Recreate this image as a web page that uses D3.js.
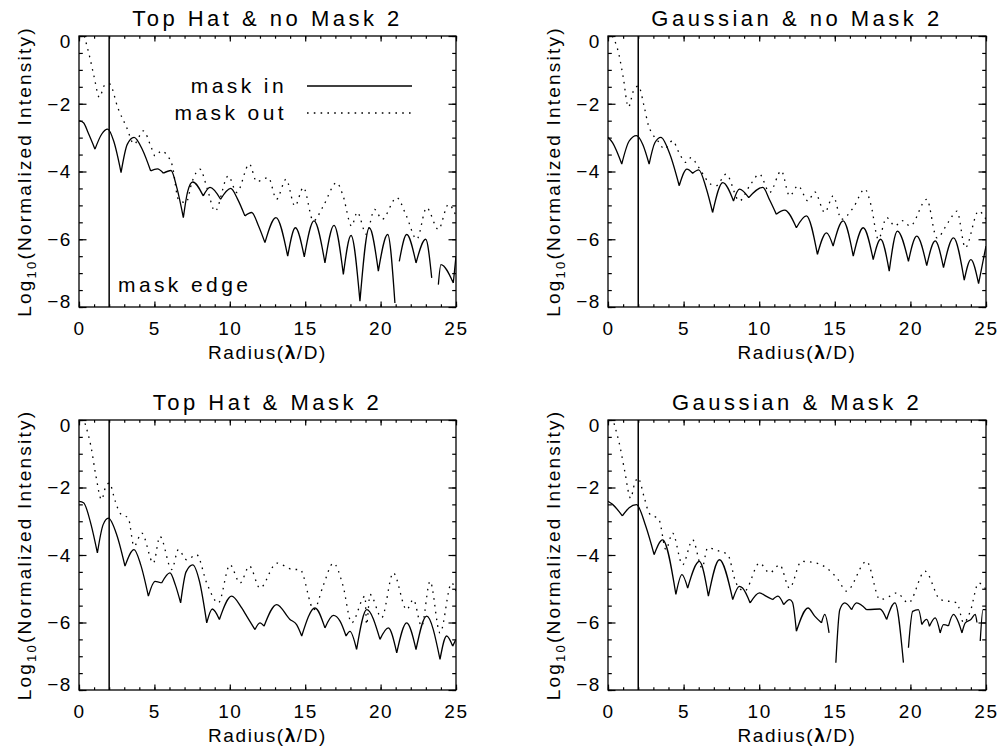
<!DOCTYPE html>
<html>
<head>
<meta charset="utf-8">
<script src="https://cdn.jsdelivr.net/npm/d3@7"></script>
<style>
  body { margin: 0; background: #fff; }
  svg text { font-family: "Liberation Sans", Arial, sans-serif; fill: #000; }
  .tick line { stroke: #000; stroke-width: 1.2; }
</style>
</head>
<body>
<script>
// four panels, IDL style plots
var width = 1001;
var height = 755;

var titles = ['Top Hat & no Mask 2', 'Gaussian & no Mask 2', 'Top Hat & Mask 2', 'Gaussian & Mask 2'];
var xMajor = [0, 5, 10, 15, 20, 25];
var xMinor = d3.range(0, 26, 1);
var yMajor = [0, -2, -4, -6, -8];
var yMinor = d3.range(0, -8.01, -0.5);
var maskEdge = 2;
var legendLabels = ['mask in', 'mask out'];

// [radius, log10 intensity], null = gap in the curve
var topHatNoMaskIn = [[0,-2.5],[0.3,-2.56],[0.6,-2.85],[1.06,-3.34],[1.5,-2.9],[1.9,-2.75],[2.3,-3.1],[2.79,-4.03],
  [3.2,-3.2],[3.65,-2.99],[4.2,-3.35],[4.75,-3.98],[5.2,-3.92],[5.6,-4.05],[6.1,-3.97],[6.5,-4.5],[6.92,-5.36],
  [7.2,-4.6],[7.54,-4.31],[8.24,-4.72],[8.69,-4.47],[9.39,-4.82],[10.06,-4.5],[10.5,-4.8],[11.0,-5.31],[11.45,-5.21],
  [11.9,-5.6],[12.33,-6.1],[13.06,-5.36],[13.84,-6.5],[14.35,-5.66],[14.94,-6.52],[15.58,-5.46],[16.31,-6.7],
  [16.91,-5.59],[17.53,-7.04],[18.04,-5.89],[18.63,-7.83],[19.25,-5.66],[19.85,-6.94],[20.47,-5.86],[20.95,-7.88],
  null,[21.24,-6.65],[21.73,-5.86],[22.35,-6.7],[22.99,-6.0],[23.39,-7.14],null,[23.83,-7.34],[24.0,-6.75],
  [24.82,-7.29],[25,-6.5]];
var topHatNoMaskOut = [[0.35,0],[0.7,-0.6],[1.0,-1.2],[1.35,-1.81],[1.7,-1.45],[2.01,-1.41],[2.6,-2.15],[3.16,-2.7],
  [3.65,-3.19],[4.27,-2.8],[4.8,-3.3],[5.04,-3.54],[5.48,-3.39],[5.8,-3.5],[6.2,-3.85],[6.59,-4.82],[7.1,-4.92],
  [7.5,-4.3],[8.02,-3.93],[8.5,-4.5],[9.02,-5.17],[9.9,-4.13],[10.46,-4.62],[11.3,-3.78],[11.78,-4.3],[12.56,-4.18],
  [13.1,-4.82],[13.73,-4.23],[14.32,-5.02],[14.88,-4.47],[15.54,-5.46],[16.2,-5.02],[17.09,-4.33],[17.5,-4.7],
  [18.08,-5.61],[18.45,-5.2],[19.05,-5.85],[19.6,-5.12],[20.1,-5.41],[21.07,-4.77],[21.7,-5.3],[22.4,-6.0],
  [23.05,-5.07],[23.83,-5.71],[24.5,-4.97],[25,-5.31]];

var gaussNoMaskIn = [[0,-2.99],[0.3,-3.15],[0.91,-3.78],[1.4,-3.1],[1.88,-2.94],[2.3,-3.2],[2.72,-3.78],[3.1,-3.15],
  [3.5,-2.99],[4.1,-3.5],[4.71,-4.42],[5.22,-3.93],[5.6,-4.05],[6.0,-3.95],[6.5,-4.5],[6.92,-5.21],[7.59,-4.33],
  [8.3,-4.87],[8.69,-4.52],[9.31,-4.77],[10.24,-4.47],[10.7,-4.85],[11.13,-5.26],[11.68,-5.14],[12.46,-5.66],
  [13.12,-5.31],[13.85,-6.45],[14.45,-5.81],[14.89,-6.2],[15.55,-5.46],[16.22,-6.5],[16.88,-5.66],[17.54,-6.6],
  [18.03,-6.0],[18.6,-6.94],[19.14,-5.76],[19.87,-6.65],[20.42,-5.91],[21.08,-6.78],[21.64,-6.05],[22.19,-6.84],
  [22.85,-5.96],[23.56,-7.21],[24.0,-6.6],[24.51,-7.31],[25,-6.2]];
var gaussNoMaskOut = [[0.29,0],[0.7,-0.5],[1.0,-1.2],[1.35,-2.1],[1.7,-1.6],[2.01,-1.48],[2.4,-2.1],[2.68,-2.65],
  [2.94,-2.89],[3.38,-3.14],[3.72,-3.34],[4.27,-3.09],[4.7,-3.45],[5.15,-3.73],[5.49,-3.59],[6.0,-3.88],[6.81,-4.38],
  [7.15,-4.42],[7.81,-4.08],[8.69,-4.87],[9.4,-4.4],[10.02,-4.08],[10.69,-4.62],[11.46,-3.98],[12.01,-4.72],
  [12.57,-4.42],[13.23,-4.87],[13.67,-4.6],[14.34,-5.21],[14.89,-4.72],[15.44,-5.41],[16.22,-5.07],[16.99,-4.52],
  [17.4,-5.0],[17.88,-6.0],[18.43,-5.36],[18.98,-5.61],[19.45,-5.45],[19.98,-5.61],[21.08,-4.82],[21.75,-5.96],
  [22.5,-5.5],[23.08,-5.17],[23.63,-6.25],[24.51,-5.17],[25,-5.41]];

var topHatMaskIn = [[0,-2.41],[0.3,-2.45],[0.8,-3.1],[1.22,-3.94],[1.6,-3.1],[1.95,-2.91],[2.5,-3.4],[3.05,-4.33],
  [3.65,-3.84],[4.1,-4.3],[4.6,-5.22],[5.04,-4.78],[5.48,-4.83],[6.03,-4.53],[6.4,-4.9],[6.74,-5.42],[7.1,-4.5],
  [7.54,-4.29],[8.0,-4.8],[8.47,-6.01],[8.84,-5.6],[9.31,-5.91],[10.12,-5.22],[10.79,-5.57],[11.12,-5.81],
  [11.67,-6.21],[12.0,-6.01],[12.27,-6.11],[13.11,-5.47],[13.99,-5.91],[14.43,-6.06],[14.77,-6.4],[15.65,-5.57],
  [16.31,-6.16],[16.87,-5.79],[17.31,-5.96],[17.71,-6.4],[17.97,-6.26],[18.41,-6.8],[19.08,-5.62],[19.96,-6.5],
  [20.51,-6.16],[21.07,-6.9],[21.73,-6.01],[22.35,-6.8],[23.05,-5.81],[23.94,-7.09],[24.38,-6.4],[24.78,-6.7],[25,-6.5]];
var topHatMaskOut = [[0.4,-0.1],[0.8,-0.8],[1.1,-1.6],[1.5,-2.36],[1.75,-2.0],[2.01,-1.87],[2.4,-2.4],[2.72,-2.76],
  [3.27,-2.91],[3.65,-3.74],[4.16,-3.35],[4.93,-4.24],[5.37,-3.45],[6.15,-4.43],[6.59,-3.84],[7.14,-4.14],[7.8,-3.99],
  [8.47,-4.83],[9.24,-5.42],[10.01,-4.29],[10.68,-4.83],[11.3,-4.33],[12.0,-4.98],[13.11,-4.24],[14.21,-4.43],
  [14.65,-4.43],[15.58,-5.62],[16.2,-4.9],[16.87,-4.24],[17.5,-4.9],[18.08,-6.01],[18.97,-5.22],[19.07,-6.06],
  [19.3,-5.17],[20.07,-5.86],[20.84,-4.53],[21.73,-5.62],[22.17,-5.32],[22.72,-6.11],[23.28,-4.78],[23.94,-6.31],
  [24.71,-4.83],[25,-5.07]];

var gaussMaskIn = [[0,-2.41],[0.3,-2.5],[0.95,-2.84],[1.4,-2.6],[1.88,-2.51],[2.5,-3.15],[3.05,-3.99],[3.61,-3.55],
  [4.49,-5.17],[4.89,-4.58],[5.27,-4.98],[6.04,-4.19],[6.64,-5.22],[7.37,-4.14],[8.25,-5.32],[8.69,-4.93],[8.9,-4.98],
  [9.4,-5.42],[10.02,-5.12],[10.45,-5.22],[10.9,-5.32],[11.24,-5.22],[11.62,-5.47],[12.01,-5.32],[12.2,-5.4],
  [12.46,-6.26],[13.23,-5.57],[13.67,-5.81],[14.12,-6.01],[14.34,-5.76],[14.62,-6.31],null,[15.07,-7.19],[15.33,-5.62],
  [15.66,-5.42],[16.11,-5.62],[16.44,-5.42],[17.1,-5.62],[17.99,-5.6],[18.43,-5.91],[18.98,-5.42],[19.54,-7.19],null,
  [19.87,-6.75],[20.15,-5.67],[20.53,-5.62],[20.75,-6.06],[21.08,-5.91],[21.26,-6.11],[21.64,-5.86],[21.97,-6.31],
  [22.19,-6.06],[22.52,-6.1],[22.85,-5.76],[23.19,-6.01],[23.41,-6.31],[23.63,-6.01],[24.0,-5.91],[24.29,-5.76],
  [24.4,-6.0],null,[24.62,-6.55],[24.8,-5.62],[25,-5.62]];
var gaussMaskOut = [[0.4,-0.1],[0.8,-0.8],[1.1,-1.5],[1.5,-2.32],[1.75,-1.9],[1.99,-1.72],[2.4,-2.3],[2.72,-2.76],
  [3.38,-2.96],[3.83,-3.84],[4.27,-3.35],[4.93,-4.29],[5.6,-3.55],[6.22,-4.38],[6.59,-3.79],[7.37,-3.89],[7.92,-3.99],
  [8.47,-4.83],[9.03,-5.07],[10.02,-4.24],[10.69,-4.53],[11.35,-4.29],[12.01,-4.98],[12.79,-4.19],[13.78,-4.24],
  [14.45,-4.38],[15.22,-4.73],[15.77,-5.07],[17.1,-4.19],[17.99,-5.32],[18.65,-5.22],[19.09,-5.12],[19.87,-5.42],
  [20.97,-4.48],[21.97,-5.32],[23.08,-5.42],[23.52,-6.01],[23.96,-5.67],[24.51,-4.83],[25,-5.02]];

var maskIn = [topHatNoMaskIn, gaussNoMaskIn, topHatMaskIn, gaussMaskIn];
var maskOut = [topHatNoMaskOut, gaussNoMaskOut, topHatMaskOut, gaussMaskOut];

// plot boxes in pixels
var boxes = [
  {left: 79, right: 456, top: 36, bottom: 307},
  {left: 608, right: 986, top: 36, bottom: 307},
  {left: 79, right: 456, top: 420, bottom: 690},
  {left: 608, right: 986, top: 420, bottom: 690}
];

var svg = d3.select('body').append('svg')
  .attr('width', width)
  .attr('height', height);

// split a series at gaps and at every local minimum so the dips stay sharp
var splitArcs = function(data) {
  var runs = [], cur = [];
  data.forEach(function(d) {
    if (d === null) { if (cur.length) runs.push(cur); cur = []; }
    else cur.push(d);
  });
  if (cur.length) runs.push(cur);
  var arcs = [];
  runs.forEach(function(run) {
    var seg = [run[0]];
    for (var i = 1; i < run.length; i++) {
      seg.push(run[i]);
      if (i < run.length - 1 && run[i][1] < run[i - 1][1] && run[i][1] < run[i + 1][1]) {
        arcs.push(seg);
        seg = [run[i]];
      }
    }
    if (seg.length > 1) arcs.push(seg);
  });
  return arcs;
};

boxes.forEach(function(b, p) {
  var x = d3.scaleLinear().domain([0, 25]).range([b.left, b.right]);
  var y = d3.scaleLinear().domain([-8, 0]).range([b.bottom, b.top]);
  var g = svg.append('g');

  var clipId = 'clip' + p;
  svg.append('clipPath').attr('id', clipId).append('rect')
    .attr('x', b.left).attr('y', b.top)
    .attr('width', b.right - b.left).attr('height', b.bottom - b.top);

  // ticks on all four sides, pointing in
  var addAxis = function(axis, tx, ty) {
    var a = g.append('g').attr('transform', 'translate(' + tx + ',' + ty + ')').call(axis);
    a.select('.domain').remove();
    return a;
  };
  addAxis(d3.axisBottom(x).tickValues(xMinor).tickSize(-2.7).tickFormat(''), 0, b.bottom);
  addAxis(d3.axisTop(x).tickValues(xMinor).tickSize(-2.7).tickFormat(''), 0, b.top);
  addAxis(d3.axisLeft(y).tickValues(yMinor).tickSize(-3.8).tickFormat(''), b.left, 0);
  addAxis(d3.axisRight(y).tickValues(yMinor).tickSize(-3.8).tickFormat(''), b.right, 0);
  addAxis(d3.axisTop(x).tickValues(xMajor).tickSize(-5.4).tickFormat(''), 0, b.top);
  addAxis(d3.axisRight(y).tickValues(yMajor).tickSize(-7.5).tickFormat(''), b.right, 0);

  var xa = addAxis(d3.axisBottom(x).tickValues(xMajor).tickSize(-5.4).tickPadding(15).tickFormat(d3.format('d')), 0, b.bottom);
  xa.selectAll('text').attr('font-size', 19).attr('font-family', null).attr('letter-spacing', 1.6);

  var ya = addAxis(d3.axisLeft(y).tickValues(yMajor).tickSize(-7.5).tickPadding(7).tickFormat(d3.format('d')), b.left, 0);
  ya.selectAll('text').attr('font-size', 19).attr('font-family', null).attr('letter-spacing', 1.6)
    .attr('dy', function(d) { return d === 0 ? '0.62em' : (d === -8 ? '0.05em' : '0.34em'); });

  g.append('rect')
    .attr('x', b.left).attr('y', b.top)
    .attr('width', b.right - b.left).attr('height', b.bottom - b.top)
    .attr('fill', 'none').attr('stroke', '#000').attr('stroke-width', 1.3);

  // mask edge
  g.append('line')
    .attr('x1', x(maskEdge)).attr('x2', x(maskEdge))
    .attr('y1', b.top).attr('y2', b.bottom)
    .attr('stroke', '#000').attr('stroke-width', 1.5);

  var line = d3.line()
    .x(function(d) { return x(d[0]); })
    .y(function(d) { return y(d[1]); })
    .curve(d3.curveMonotoneX);

  g.append('path')
    .attr('clip-path', 'url(#' + clipId + ')')
    .attr('d', line(maskOut[p]))
    .attr('fill', 'none').attr('stroke', '#000').attr('stroke-width', 1.3)
    .attr('stroke-dasharray', '1.6 5.2');

  g.append('path')
    .attr('clip-path', 'url(#' + clipId + ')')
    .attr('d', splitArcs(maskIn[p]).map(function(a) { return line(a); }).join(''))
    .attr('fill', 'none').attr('stroke', '#000').attr('stroke-width', 1.3);

  // title
  g.append('text')
    .attr('x', (b.left + b.right) / 2).attr('y', b.top - 10)
    .attr('text-anchor', 'middle').attr('font-size', 22).attr('letter-spacing', 3.5)
    .text(titles[p]);

  // x label
  var xl = g.append('text')
    .attr('x', (b.left + b.right) / 2).attr('y', b.bottom + 52)
    .attr('text-anchor', 'middle').attr('font-size', 19).attr('letter-spacing', 1.6);
  xl.append('tspan').text('Radius(');
  xl.append('tspan').attr('font-weight', 'bold').text('λ');
  xl.append('tspan').text('/D)');

  // y label
  var yl = g.append('text')
    .attr('transform', 'translate(' + (b.left - 48) + ',' + ((b.top + b.bottom) / 2) + ') rotate(-90)')
    .attr('text-anchor', 'middle').attr('font-size', 19).attr('letter-spacing', 2.2);
  yl.append('tspan').text('Log');
  yl.append('tspan').attr('font-size', 13).attr('dy', 5).text('10');
  yl.append('tspan').attr('dy', -5).text('(Normalized Intensity)');

  if (p === 0) {
    var legY = [b.top + 50, b.top + 77];
    legendLabels.forEach(function(lab, i) {
      g.append('text')
        .attr('x', b.left + 208).attr('y', legY[i] + 7)
        .attr('text-anchor', 'end').attr('font-size', 21).attr('letter-spacing', 3.4)
        .text(lab);
      g.append('line')
        .attr('x1', b.left + 228).attr('x2', b.left + 333)
        .attr('y1', legY[i]).attr('y2', legY[i])
        .attr('stroke', '#000').attr('stroke-width', 1.3)
        .attr('stroke-dasharray', i === 1 ? '1.6 5.2' : null);
    });
    g.append('text')
      .attr('x', b.left + 39).attr('y', b.bottom - 15)
      .attr('font-size', 21).attr('letter-spacing', 3.4)
      .text('mask edge');
  }
});
</script>
</body>
</html>
